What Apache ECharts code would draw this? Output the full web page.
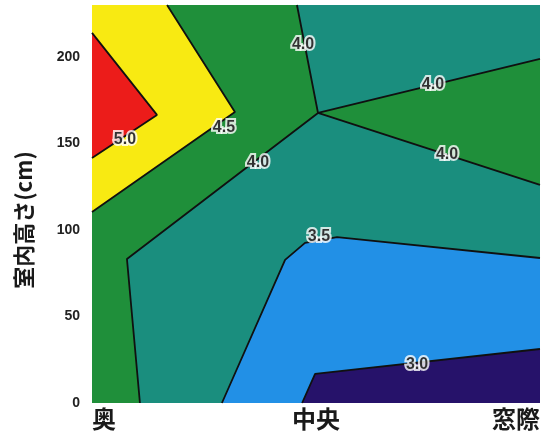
<!DOCTYPE html>
<html>
<head>
<meta charset="utf-8">
<script src="https://cdn.jsdelivr.net/npm/echarts@6/dist/echarts.min.js"></script>
<style>
html,body{margin:0;padding:0;background:#fff;}
#chart{width:549px;height:434px;}
</style>
</head>
<body>
<div id="chart"></div>
<script>
// Categories on the horizontal axis (positions 0, 1, 2)
const xCategories = ['奥', '中央', '窓際'];
const yTicks = [0, 50, 100, 150, 200];
const yMax = 230;

// Contour lines: [position, height(cm)]
const line50 = [[0, 213.9], [0.290, 166.5], [0, 141.6]];
const line45 = [[0.335, 230], [0.638, 168.2], [0, 110.4]];
const line40a = [[0.915, 230], [1.009, 167.6], [0.156, 83.2], [0.214, 0]];
const line40b = [[1.009, 167.6], [2, 198.8]];
const line40c = [[1.009, 167.6], [2, 126.0]];
const line35 = [[0.580, 0], [0.862, 82.7], [0.951, 92.5], [1.094, 95.9], [2, 83.8]];
const line30 = [[0.938, 0], [0.996, 16.8], [2, 31.2]];

// Contour labels: [position, height, text]
const contourLabels = [
  [0.147, 152, '5.0'],
  [0.589, 159, '4.5'],
  [0.741, 138.7, '4.0'],
  [0.942, 206.9, '4.0'],
  [1.522, 183.8, '4.0'],
  [1.585, 143.3, '4.0'],
  [1.013, 95.9, '3.5'],
  [1.451, 22, '3.0']
];

// Fill colours per band
const colors = {
  teal: '#1a8e7e',
  green: '#1f8f3a',
  yellow: '#f8ea12',
  red: '#ec1c1a',
  blue: '#2290e6',
  navy: '#26126a'
};

const xMin = 0, xMax = 2;
// Filled regions, painted in order
const regions = [
  { color: colors.teal, pts: [[xMin, 0], [xMin, yMax], [xMax, yMax], [xMax, 0]] },
  { color: colors.green, pts: [[xMin, yMax]].concat(line40a, [[xMin, 0]]) },
  { color: colors.green, pts: line40b.concat([line40c[1]]) },
  { color: colors.yellow, pts: [[xMin, yMax]].concat(line45) },
  { color: colors.red, pts: line50 },
  { color: colors.blue, pts: line35.concat([[xMax, 0]]) },
  { color: colors.navy, pts: line30.concat([[xMax, 0]]) }
];

const contourLines = [line50, line45, line40a, line40b, line40c, line35, line30];

const chart = echarts.init(document.getElementById('chart'));

const series = [
  {
    type: 'custom',
    clip: true,
    silent: true,
    data: regions.map((r, i) => [i]),
    renderItem: function (params, api) {
      const r = regions[params.dataIndex];
      return {
        type: 'polygon',
        shape: { points: r.pts.map(p => api.coord(p)) },
        style: { fill: r.color, stroke: null }
      };
    },
    z: 1
  }
];
contourLines.forEach(function (ln) {
  series.push({
    type: 'line',
    data: ln,
    showSymbol: false,
    symbol: 'none',
    silent: true,
    lineStyle: { color: '#101010', width: 1.8 },
    z: 2
  });
});
const labelBase = {
  show: true,
  position: 'inside',
  formatter: function (p) { return p.data[2]; },
  fontFamily: 'Liberation Sans',
  fontSize: 16,
  fontWeight: 'bold'
};
// white halo underneath
series.push({
  type: 'scatter',
  data: contourLabels,
  symbolSize: 0,
  silent: true,
  z: 3,
  label: Object.assign({}, labelBase, {
    color: '#ffffff',
    textBorderColor: '#ffffff',
    textBorderWidth: 4
  })
});
// black text on top
series.push({
  type: 'scatter',
  data: contourLabels,
  symbolSize: 0,
  silent: true,
  z: 4,
  label: Object.assign({}, labelBase, {
    color: '#000000',
    textBorderWidth: 0
  })
});

chart.setOption({
  animation: false,
  backgroundColor: '#fff',
  grid: { left: 92, right: 9, top: 5, bottom: 31, containLabel: false },
  xAxis: {
    type: 'value',
    min: xMin,
    max: xMax,
    interval: 1,
    axisLine: { show: false },
    axisTick: { show: false },
    splitLine: { show: false },
    axisLabel: {
      formatter: function (v) { return xCategories[Math.round(v)]; },
      fontFamily: 'Noto Sans CJK JP',
      fontSize: 24,
      fontWeight: 'bold',
      color: '#1a1a1a',
      margin: 4,
      alignMinLabel: 'left',
      alignMaxLabel: 'right'
    }
  },
  yAxis: {
    type: 'value',
    min: 0,
    max: yMax,
    interval: 50,
    name: '室内高さ(cm)',
    nameLocation: 'middle',
    nameRotate: 90,
    nameGap: 57,
    nameTextStyle: {
      fontFamily: 'Noto Sans CJK JP',
      fontSize: 22,
      fontWeight: 'bold',
      color: '#1a1a1a',
      padding: [0, 32, 0, 0]
    },
    axisLine: { show: false },
    axisTick: { show: false },
    splitLine: { show: false },
    axisLabel: {
      formatter: function (v) { return yTicks.indexOf(v) >= 0 ? String(v) : ''; },
      fontFamily: 'Liberation Sans',
      fontSize: 14,
      fontWeight: 'bold',
      color: '#222',
      margin: 12
    }
  },
  series: series
});
</script>
</body>
</html>
